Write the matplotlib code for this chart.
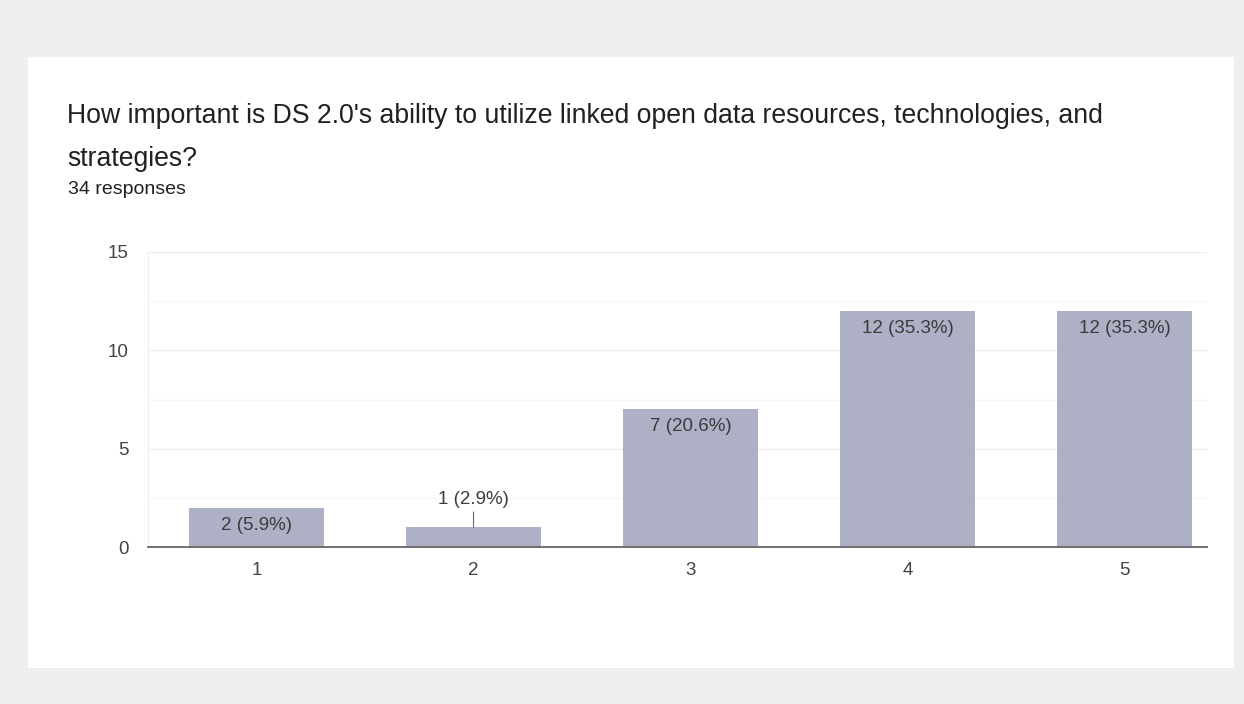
import numpy as np
import matplotlib.pyplot as plt
from matplotlib.patches import Rectangle

plt.rcParams['font.family'] = ['Liberation Sans', 'DejaVu Sans']

# datos del grafico
categorias = ["1", "2", "3", "4", "5"]
respuestas = [2, 1, 7, 12, 12]
porcentajes = [5.9, 2.9, 20.6, 35.3, 35.3]
total = 34
titulo = "How important is DS 2.0's ability to utilize linked open data resources, technologies, and\nstrategies?"

W, H = 1244, 704
fig = plt.figure(figsize=(W / 100, H / 100), dpi=100)
fig.patch.set_facecolor("#efefef")

# tarjeta blanca
fig.add_artist(Rectangle((28 / W, 1 - 668 / H), (1234 - 28) / W, (668 - 57) / H,
                         transform=fig.transFigure, facecolor="white", edgecolor="none", zorder=0))

fig.text(67 / W, 1 - 116 / H, titulo.split("\n")[0], fontsize=19.2, color="#202124", va="center")
fig.text(67 / W, 1 - 159 / H, titulo.split("\n")[1], fontsize=19.2, color="#202124", va="center")
fig.text(68 / W, 1 - 189 / H, f"{total} responses", fontsize=14, color="#202124", va="center")

ax = fig.add_axes([148 / W, 1 - 547 / H, (1207 - 148) / W, (547 - 252) / H])
ax.set_facecolor("none")
x = np.arange(1, len(categorias) + 1)
barras = ax.bar(x, respuestas, width=0.62, color="#aeb0c6", zorder=3)

ax.set_xlim(0.5, 5.38)
ax.set_ylim(0, 15)
ax.set_yticks([0, 5, 10, 15])
ax.set_yticks([2.5, 7.5, 12.5], minor=True)
ax.set_xticks(x)
ax.set_xticklabels(categorias)
ax.grid(axis="y", which="major", color="#eeeeee", lw=1, zorder=0)
ax.grid(axis="y", which="minor", color="#f6f6f6", lw=1, zorder=0)
ax.tick_params(axis="both", which="both", length=0, labelsize=13.5, colors="#444444")
ax.tick_params(axis="y", pad=14)
ax.tick_params(axis="x", pad=11)
for s in ["top", "right"]:
    ax.spines[s].set_visible(False)
ax.spines["left"].set_color("#eeeeee")
ax.spines["bottom"].set_color("#666666")
ax.spines["bottom"].set_linewidth(1.3)
ax.spines["bottom"].set_zorder(4)

# etiquetas de las barras
for xi, v, p in zip(x, respuestas, porcentajes):
    etiqueta = f"{v} ({p}%)"
    if v >= 2:
        ax.annotate(etiqueta, (xi, v), xytext=(0, -6.5), textcoords="offset points",
                    ha="center", va="top", fontsize=13.5, color="#3c3c3c", zorder=5)
    else:
        ax.annotate(etiqueta, (xi, v), xytext=(0, 14), textcoords="offset points",
                    ha="center", va="bottom", fontsize=13.5, color="#3c3c3c", zorder=5,
                    arrowprops=dict(arrowstyle="-", color="#666666", lw=0.8,
                                    shrinkA=1, shrinkB=0))

fig.savefig("out.png", dpi=100, facecolor=fig.get_facecolor())
